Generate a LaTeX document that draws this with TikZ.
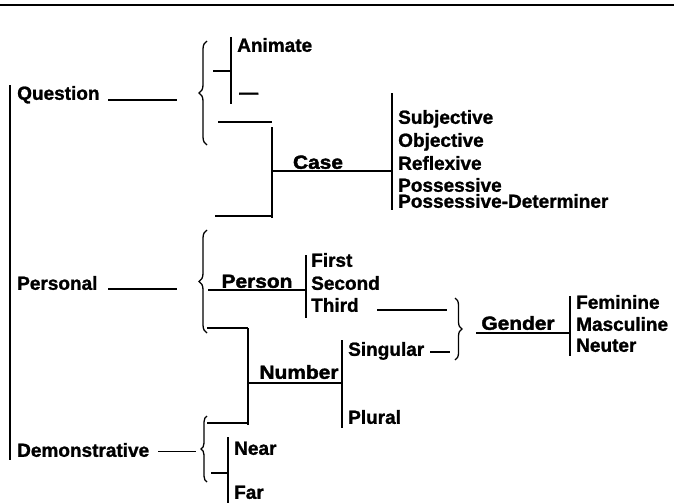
\documentclass[tikz,border=0pt]{standalone}
\usepackage{fontspec}
\setmainfont{Liberation Sans}[BoldFeatures={FakeBold=1.2}]
\newfontfamily\labfont{Liberation Sans}[FakeStretch=1.1,BoldFeatures={FakeBold=2}]
\usetikzlibrary{decorations.pathreplacing}
\begin{document}
\begin{tikzpicture}[x=1pt,y=-1pt,
  txt/.style={inner sep=0pt, anchor=west, font=\fontsize{19}{19}\selectfont\bfseries, text height=13.6pt, text depth=0pt},
  lab/.style={inner sep=0pt, font=\labfont\fontsize{19}{19}\selectfont\bfseries, text height=13.6pt, text depth=0pt},
  ln/.style={line width=1.2pt},
  bar/.style={line width=1.3pt},
  brace/.style={decorate, decoration={brace, amplitude=#1}, line width=1.3pt},
]
\useasboundingbox (0,0) rectangle (674,503);
% top rule
\coordinate (r1) at (0,5); \coordinate (r2) at (674,5);
\draw[line width=1.6pt] (r1) -- (r2);
% left column
\coordinate (lb1) at (10,85); \coordinate (lb2) at (10,460);
\draw[bar] (lb1) -- (lb2);
\node[txt] (quest) at (17,93) {Question};
\node[txt] (pers) at (17,283) {Personal};
\node[txt] (demo) at (17,450) {Demonstrative};
% Question branch
\coordinate (q1) at (108,100); \coordinate (q2) at (177,100);
\draw[ln] (q1) -- (q2);
\coordinate (b1a) at (207,145); \coordinate (b1b) at (207,41);
\draw[brace=8pt] (b1a) -- (b1b);
\coordinate (ab1) at (231,37); \coordinate (ab2) at (231,104);
\draw[bar] (ab1) -- (ab2);
\coordinate (as1) at (213,71); \coordinate (as2) at (231,71);
\draw[ln] (as1) -- (as2);
\node[txt] (anim) at (237,45) {Animate};
\node[txt] (dash) at (239,92) {---};
% Case
\coordinate (c1) at (218,122); \coordinate (c2) at (272,122);
\draw[ln] (c1) -- (c2);
\coordinate (cv1) at (272,127); \coordinate (cv2) at (272,218);
\draw[bar] (cv1) -- (cv2);
\coordinate (c3) at (215,216); \coordinate (c4) at (272,216);
\draw[ln] (c3) -- (c4);
\coordinate (cl1) at (272,171); \coordinate (cl2) at (392,171);
\draw[ln] (cl1) -- (cl2);
\node[lab] (case) at (318,162) {Case};
\coordinate (cb1) at (392,93); \coordinate (cb2) at (392,210);
\draw[bar] (cb1) -- (cb2);
\node[txt] (subj) at (398,117) {Subjective};
\node[txt] (obj) at (398,140) {Objective};
\node[txt] (refl) at (398,163) {Reflexive};
\node[txt] (poss) at (398,185) {Possessive};
\node[txt] (possd) at (398,201) {Possessive-Determiner};
% Personal branch
\coordinate (p1) at (108,289); \coordinate (p2) at (177,289);
\draw[ln] (p1) -- (p2);
\coordinate (b2a) at (207,333); \coordinate (b2b) at (207,230);
\draw[brace=8pt] (b2a) -- (b2b);
\coordinate (pl1) at (208,290); \coordinate (pl2) at (306,290);
\draw[ln] (pl1) -- (pl2);
\node[lab] (person) at (257,281) {Person};
\coordinate (pb1) at (306,255); \coordinate (pb2) at (306,318);
\draw[bar] (pb1) -- (pb2);
\node[txt] (first) at (311,260) {First};
\node[txt] (second) at (311,283) {Second};
\node[txt] (third) at (311,305) {Third};
% Number
\coordinate (n1) at (207,328); \coordinate (n2) at (248,328);
\draw[ln] (n1) -- (n2);
\coordinate (nv2) at (248,425);
\draw[bar] (n2) -- (nv2);
\coordinate (n3) at (207,423); \coordinate (n4) at (248,423);
\draw[ln] (n3) -- (n4);
\coordinate (nl1) at (248,383); \coordinate (nl2) at (342,383);
\draw[ln] (nl1) -- (nl2);
\node[lab] (number) at (299,372) {Number};
\coordinate (nb1) at (342,340); \coordinate (nb2) at (342,428);
\draw[bar] (nb1) -- (nb2);
\node[txt] (sing) at (348,349) {Singular};
\node[txt] (plur) at (348,417) {Plural};
% Gender
\coordinate (t1) at (377,310); \coordinate (t2) at (447,310);
\draw[ln] (t1) -- (t2);
\coordinate (s1) at (430,352); \coordinate (s2) at (450,352);
\draw[ln] (s1) -- (s2);
\coordinate (b3a) at (455,298); \coordinate (b3b) at (455,360);
\draw[brace=7pt] (b3a) -- (b3b);
\coordinate (g1) at (476,333); \coordinate (g2) at (570,333);
\draw[ln] (g1) -- (g2);
\node[lab] (gender) at (518,323) {Gender};
\coordinate (gb1) at (570,296); \coordinate (gb2) at (570,356);
\draw[bar] (gb1) -- (gb2);
\node[txt] (fem) at (576,302) {Feminine};
\node[txt] (masc) at (576,324) {Masculine};
\node[txt] (neut) at (576,345) {Neuter};
% Demonstrative
\coordinate (d1) at (158,451); \coordinate (d2) at (196,451);
\draw[line width=0.9pt] (d1) -- (d2);
\coordinate (b4a) at (207,482); \coordinate (b4b) at (207,416);
\draw[brace=6pt] (b4a) -- (b4b);
\coordinate (nf1) at (228,437); \coordinate (nf2) at (228,503);
\draw[bar] (nf1) -- (nf2);
\coordinate (ns1) at (211,473); \coordinate (ns2) at (228,473);
\draw[ln] (ns1) -- (ns2);
\node[txt] (near) at (234,448) {Near};
\node[txt] (far) at (234,492) {Far};
\end{tikzpicture}
\end{document}
